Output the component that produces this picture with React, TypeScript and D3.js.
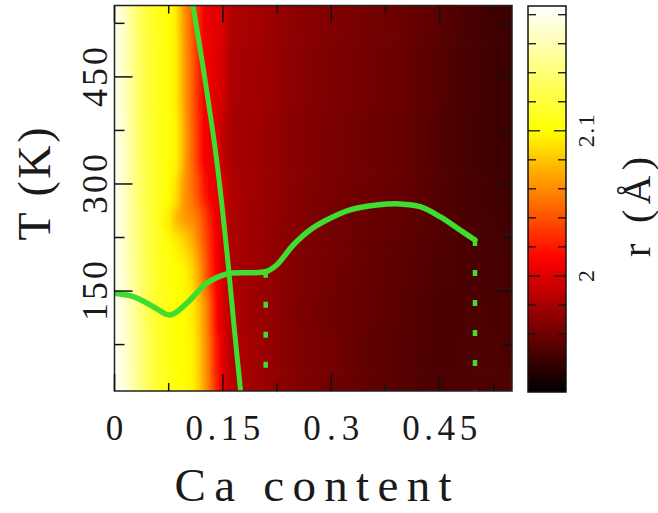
import React from "react";
import * as d3 from "d3";

const W = 658;
const H = 513;

// Ca content columns and temperature rows of the r(x, T) map (values in Å)
const caGrid = [0, 0.015, 0.03, 0.045, 0.06, 0.075, 0.085, 0.093, 0.1, 0.108, 0.116, 0.124, 0.132, 0.14, 0.148, 0.156, 0.165, 0.2, 0.25, 0.3, 0.35, 0.4, 0.45, 0.5, 0.55];
const tempGrid = [10, 60, 120, 180, 220, 250, 280, 350, 450, 550];
const rAt10 = [2.184, 2.172, 2.152, 2.132, 2.116, 2.107, 2.103, 2.101, 2.099, 2.096, 2.085, 2.068, 2.05, 2.025, 2.008, 1.992, 1.984, 1.977, 1.967, 1.961, 1.955, 1.951, 1.947, 1.949, 1.949];
const rAt60 = [2.184, 2.171, 2.151, 2.131, 2.115, 2.107, 2.103, 2.101, 2.099, 2.096, 2.084, 2.067, 2.049, 2.022, 2.006, 1.991, 1.984, 1.977, 1.967, 1.961, 1.955, 1.951, 1.947, 1.949, 1.948];
const rAt120 = [2.183, 2.169, 2.148, 2.128, 2.114, 2.106, 2.102, 2.1, 2.098, 2.094, 2.082, 2.065, 2.045, 2.015, 2.002, 1.99, 1.983, 1.976, 1.966, 1.96, 1.956, 1.952, 1.947, 1.948, 1.947];
const rAt180 = [2.182, 2.167, 2.145, 2.126, 2.113, 2.105, 2.101, 2.099, 2.095, 2.086, 2.07, 2.05, 2.03, 2.012, 2.0, 1.988, 1.982, 1.976, 1.967, 1.961, 1.957, 1.953, 1.948, 1.947, 1.945];
const rAt220 = [2.182, 2.166, 2.143, 2.125, 2.112, 2.103, 2.096, 2.09, 2.082, 2.072, 2.058, 2.042, 2.026, 2.01, 1.998, 1.988, 1.981, 1.976, 1.967, 1.962, 1.957, 1.954, 1.949, 1.946, 1.944];
const rAt250 = [2.182, 2.165, 2.142, 2.124, 2.11, 2.093, 2.072, 2.066, 2.063, 2.06, 2.052, 2.038, 2.022, 2.008, 1.998, 1.988, 1.981, 1.976, 1.968, 1.962, 1.958, 1.955, 1.95, 1.946, 1.943];
const rAt280 = [2.182, 2.165, 2.141, 2.123, 2.111, 2.101, 2.09, 2.07, 2.06, 2.05, 2.038, 2.02, 2.008, 2.004, 2.0, 1.99, 1.982, 1.977, 1.969, 1.963, 1.959, 1.956, 1.95, 1.945, 1.942];
const rAt350 = [2.182, 2.164, 2.14, 2.122, 2.111, 2.102, 2.097, 2.08, 2.062, 2.046, 2.028, 2.01, 2.005, 2.002, 1.992, 1.984, 1.98, 1.977, 1.969, 1.964, 1.96, 1.957, 1.95, 1.944, 1.941];
const rAt450 = [2.182, 2.163, 2.139, 2.121, 2.11, 2.102, 2.095, 2.075, 2.06, 2.044, 2.026, 2.01, 2.005, 2.002, 1.998, 1.988, 1.981, 1.978, 1.97, 1.965, 1.961, 1.958, 1.951, 1.945, 1.941];
const rAt550 = [2.182, 2.163, 2.138, 2.12, 2.109, 2.102, 2.094, 2.072, 2.058, 2.042, 2.025, 2.008, 2.004, 2.002, 2.0, 1.99, 1.982, 1.979, 1.971, 1.966, 1.962, 1.959, 1.952, 1.945, 1.941];
const rRows = [rAt10, rAt60, rAt120, rAt180, rAt220, rAt250, rAt280, rAt350, rAt450, rAt550];

// Steep phase boundary: Ca content as a function of temperature
const boundaryT = [550, 480, 417, 350, 281, 175, 100, 10];
const boundaryCa = [0.1085, 0.12, 0.1296, 0.1392, 0.1475, 0.1585, 0.1655, 0.1745];

// Transition temperature curve
const transCa = [0, 0.026, 0.0537, 0.0768, 0.0999, 0.1276, 0.1553, 0.1829, 0.2092, 0.2244, 0.2474, 0.2705, 0.2936, 0.3259, 0.3628, 0.395, 0.4227, 0.4504, 0.4781, 0.4988];
const transT = [146.9, 142.1, 128.1, 116.5, 132.8, 160.9, 173.9, 175.7, 177.1, 186.5, 214.5, 235.5, 249.5, 263.7, 270.6, 272.1, 268.2, 254.2, 235.5, 221.5];

// Dotted verticals below the curve ends
const dropCa = [0.2092, 0.4988];
const dropTopT = [177.1, 221.5];

// Axis ticks
const xMajor = [0, 0.15, 0.3, 0.45];
const xMinor = [0.075, 0.225, 0.375, 0.525];
const xLabels = ["0", "0.15", "0.3", "0.45"];
const yMajor = [150, 300, 450];
const yMinor = [75, 225, 375, 525];
const yLabels = ["150", "300", "450"];
const cbTicks = [1.94, 1.96, 1.98, 2.0, 2.02, 2.04, 2.06, 2.08, 2.1, 2.12, 2.14, 2.16, 2.18];
const cbMajor = [2.0, 2.1];
const cbLabels = ["2", "2.1"];

// Colour map (black - red - yellow - white)
const paletteValues = [1.92, 2.012, 2.1, 2.186];
const paletteColors = ["#000000", "#ff0000", "#ffff00", "#ffffff"];

const GREEN = "#3fdd30";
const FONT = "'Liberation Serif', 'DejaVu Serif', serif";
const INK = "#1a1a1a";

export default function App() {
  const left = 114.5, right = 512, top = 5.5, bottom = 391;
  const x = d3.scaleLinear().domain([0, 0.55]).range([left, right]);
  const y = d3.scaleLinear().domain([10, 550]).range([bottom, top]);
  const color = d3.scaleLinear<string>().domain(paletteValues).range(paletteColors).clamp(true);

  const cbL = 528, cbR = 566;
  const cb = d3.scaleLinear().domain([1.92, 2.186]).range([392, 6]);

  const bands = tempGrid.map((t, i) => {
    const yTop = i === tempGrid.length - 1 ? top - 40 : y((t + tempGrid[i + 1]) / 2);
    const yBot = i === 0 ? bottom + 40 : y((tempGrid[i - 1] + t) / 2);
    return { i, yTop, yBot };
  });

  const boundaryLine = d3
    .line<number>()
    .x((_, i) => x(boundaryCa[i]))
    .y((t) => y(t))
    .curve(d3.curveCatmullRom.alpha(0.5));
  const transLine = d3
    .line<number>()
    .x((c) => x(c))
    .y((_, i) => y(transT[i]))
    .curve(d3.curveCatmullRom.alpha(0.5));

  const cbStops = d3.range(0, 1.0001, 0.02).map((f) => {
    const v = 1.92 + f * (2.186 - 1.92);
    return { f, c: color(v) };
  });

  return (
    <svg width={W} height={H} style={{ position: "absolute", left: 0, top: 0, background: "#fff" }}>
      <defs>
        <clipPath id="plotClip">
          <rect x={left} y={top} width={right - left} height={bottom - top} />
        </clipPath>
        <filter id="soften" x="-5%" y="-15%" width="110%" height="130%">
          <feGaussianBlur stdDeviation="0.8 9" />
        </filter>
        {rRows.map((row, i) => (
          <linearGradient key={i} id={`row${i}`} gradientUnits="userSpaceOnUse" x1={x(0)} x2={x(0.55)} y1={0} y2={0}>
            {row.map((v, j) => (
              <stop key={j} offset={caGrid[j] / 0.55} stopColor={color(v)} />
            ))}
          </linearGradient>
        ))}
        <linearGradient id="cbGrad" x1="0" y1="1" x2="0" y2="0">
          {cbStops.map((s, k) => (
            <stop key={k} offset={s.f} stopColor={s.c} />
          ))}
        </linearGradient>
      </defs>

      {/* r(x, T) map */}
      <g clipPath="url(#plotClip)">
        <g filter="url(#soften)">
          {bands.map((b) => (
            <rect key={b.i} x={left - 20} y={b.yTop} width={right - left + 40} height={b.yBot - b.yTop + 0.5} fill={`url(#row${b.i})`} />
          ))}
        </g>
      </g>

      {/* curves */}
      <g clipPath="url(#plotClip)">
        {dropCa.map((c, i) => (
          <line key={i} x1={x(c)} x2={x(c)} y1={y(dropTopT[i])} y2={bottom + 6} stroke={GREEN} strokeWidth={4.5} strokeDasharray="6 24" />
        ))}
        <path d={boundaryLine(boundaryT) ?? ""} fill="none" stroke={GREEN} strokeWidth={5} />
        <path d={transLine(transCa) ?? ""} fill="none" stroke={GREEN} strokeWidth={5.5} strokeLinecap="round" />
      </g>

      {/* frame and ticks */}
      <rect x={left} y={top} width={right - left} height={bottom - top} fill="none" stroke="#222" strokeWidth={1.5} />
      {xMajor.concat(xMinor).map((v, i) => {
        const len = i < xMajor.length ? 17 : 8;
        return (
          <g key={`xt${i}`} stroke="#111" strokeWidth={1.5}>
            <line x1={x(v)} x2={x(v)} y1={bottom} y2={bottom - len} />
            <line x1={x(v)} x2={x(v)} y1={top} y2={top + len} />
          </g>
        );
      })}
      {yMajor.concat(yMinor).map((v, i) => {
        const len = i < yMajor.length ? 18 : 10;
        return (
          <g key={`yt${i}`} stroke="#111" strokeWidth={1.5}>
            <line x1={left} x2={left + len} y1={y(v)} y2={y(v)} />
            <line x1={right} x2={right - len} y1={y(v)} y2={y(v)} />
          </g>
        );
      })}

      {/* axis labels */}
      {xMajor.map((v, i) => (
        <text key={`xl${i}`} x={x(v)} y={440} textAnchor="middle" fontFamily={FONT} fontSize={35} fill={INK}
          {...(xLabels[i].length > 1 ? { textLength: xLabels[i].length * 18.7, lengthAdjust: "spacing" } : {})}>
          {xLabels[i]}
        </text>
      ))}
      {yMajor.map((v, i) => (
        <text key={`yl${i}`} transform={`translate(107,${y(v)}) rotate(-90)`} textAnchor="middle" fontFamily={FONT} fontSize={36} fill={INK}
          textLength={yLabels[i].length * 20} lengthAdjust="spacing">
          {yLabels[i]}
        </text>
      ))}
      <text x={313} y={501} textAnchor="middle" fontFamily={FONT} fontSize={47} fill={INK} textLength={277} lengthAdjust="spacing">
        Ca content
      </text>
      <text transform="translate(50,184) rotate(-90)" textAnchor="middle" fontFamily={FONT} fontSize={46} fill={INK} textLength={113} lengthAdjust="spacing">
        T (K)
      </text>

      {/* colour bar */}
      <rect x={cbL} y={cb(2.186)} width={cbR - cbL} height={cb(1.92) - cb(2.186)} fill="url(#cbGrad)" stroke="#111" strokeWidth={1.5} />
      {cbTicks.map((v, i) => {
        const len = cbMajor.some((m) => Math.abs(m - v) < 1e-6) ? 12 : 8;
        return (
          <g key={`cb${i}`} stroke="#111" strokeWidth={1.3}>
            <line x1={cbL} x2={cbL + len} y1={cb(v)} y2={cb(v)} />
            <line x1={cbR} x2={cbR - len} y1={cb(v)} y2={cb(v)} />
          </g>
        );
      })}
      {cbMajor.map((v, i) => (
        <text key={`cbl${i}`} transform={`translate(594,${cb(v)}) rotate(-90)`} textAnchor="middle" fontFamily={FONT} fontSize={24} fill={INK}
          {...(cbLabels[i].length > 1 ? { textLength: cbLabels[i].length * 11, lengthAdjust: "spacing" } : {})}>
          {cbLabels[i]}
        </text>
      ))}
      <text transform="translate(650,207) rotate(-90)" textAnchor="middle" fontFamily={FONT} fontSize={40} fill={INK} textLength={100} lengthAdjust="spacing">
        r (Å)
      </text>
    </svg>
  );
}
